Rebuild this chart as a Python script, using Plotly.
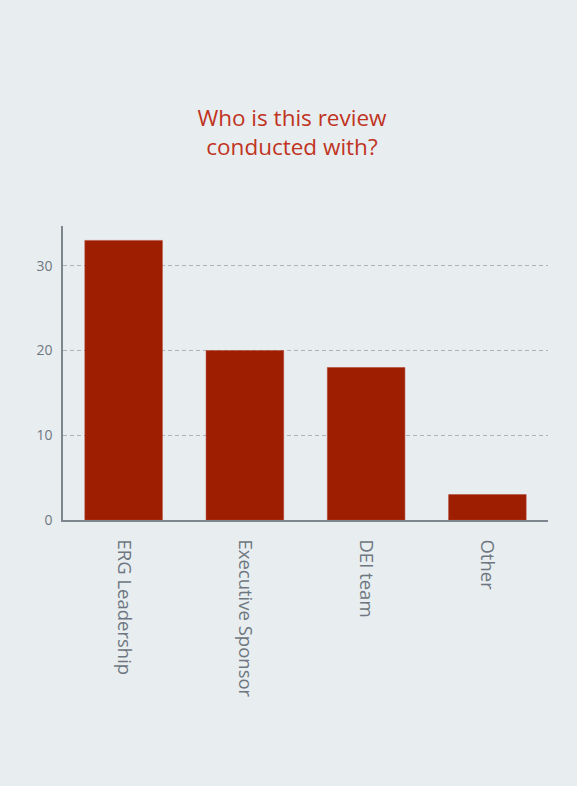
import plotly.graph_objects as go

categories = ["ERG Leadership", "Executive Sponsor", "DEI team", "Other"]
values = [33, 20, 18, 3]
y_ticks = [0, 10, 20, 30]

bg = "#e8edf0"
fig = go.Figure(go.Bar(
    x=categories, y=values,
    marker=dict(color="#9e1e02", line=dict(color="#b5402a", width=0.5)),
    width=0.64,
))
fig.update_layout(
    width=577, height=786,
    paper_bgcolor=bg, plot_bgcolor=bg,
    margin=dict(l=63, r=29, t=226, b=266),
    showlegend=False,
    title=dict(
        text="Who is this review<br>conducted with?",
        x=0.506, xanchor="center", y=0.8395, yanchor="middle",
        font=dict(family="Open Sans", size=22.5, color="#c0341f"),
    ),
    font=dict(family="Open Sans", color="#6e7780"),
)
fig.update_yaxes(
    range=[0, 34.7], tickvals=y_ticks, showgrid=True,
    gridcolor="#aeb3b8", griddash="4px,3px", gridwidth=1,
    showline=True, linecolor="#7d868e", linewidth=1.5,
    zeroline=False, ticks="outside", ticklen=6, tickcolor="rgba(0,0,0,0)",
    tickfont=dict(size=14, color="#6e7780"),
)
fig.update_xaxes(
    showline=True, linecolor="#7d868e", linewidth=1.5,
    tickangle=90, ticks="outside", ticklen=14, tickcolor="rgba(0,0,0,0)",
    tickfont=dict(size=18.5, color="#6e7780"),
)
fig.write_html("out.html", config={"displayModeBar": False},
               post_script="document.body.style.margin='0';")
